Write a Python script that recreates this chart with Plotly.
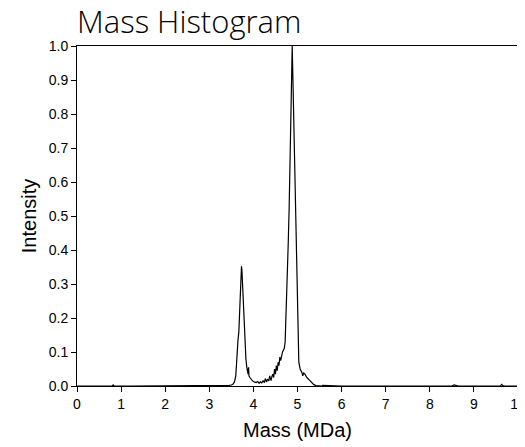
import plotly.graph_objects as go

# mass (MDa) and normalised intensity
mass = [0.0, 0.5, 0.80, 0.82, 0.84, 1.2, 1.70, 1.72, 2.1, 2.6, 3.0, 3.3, 3.45,
        3.50, 3.54, 3.57, 3.60, 3.62, 3.63, 3.65, 3.67, 3.69, 3.71, 3.73, 3.74,
        3.75, 3.77, 3.80, 3.83, 3.85, 3.86, 3.88, 3.89, 3.90, 3.92, 3.95, 3.98,
        4.02, 4.06, 4.10, 4.13, 4.16, 4.19, 4.22, 4.25, 4.27, 4.30, 4.32, 4.35,
        4.37, 4.40, 4.42, 4.44, 4.46, 4.48, 4.50, 4.52, 4.54, 4.56, 4.58, 4.60,
        4.62, 4.64, 4.66, 4.68, 4.70, 4.72, 4.74, 4.77, 4.79, 4.81, 4.83, 4.85,
        4.87, 4.88, 4.89, 4.91, 4.93, 4.95, 4.97, 4.99, 5.01, 5.03, 5.06, 5.10,
        5.12, 5.14, 5.17, 5.19, 5.21, 5.25, 5.29, 5.33, 5.37, 5.42, 5.5, 5.55,
        5.57, 6.0, 6.5, 7.0, 7.5, 8.0, 8.5, 8.55, 8.6, 8.65, 9.0, 9.6, 9.63,
        9.66, 9.7, 10.0]
intensity = [0.0, 0.0, 0.0, 0.003, 0.0, 0.0, 0.0, 0.002, 0.0, 0.0, 0.0, 0.001, 0.002,
             0.003, 0.006, 0.012, 0.03, 0.07, 0.11, 0.135, 0.16, 0.24, 0.31, 0.352, 0.34,
             0.31, 0.24, 0.14, 0.08, 0.055, 0.045, 0.035, 0.055, 0.03, 0.025, 0.018, 0.015,
             0.012, 0.010, 0.013, 0.008, 0.012, 0.009, 0.015, 0.010, 0.022, 0.012, 0.020, 0.015,
             0.030, 0.016, 0.028, 0.035, 0.025, 0.050, 0.035, 0.060, 0.045, 0.070, 0.060, 0.085,
             0.075, 0.090, 0.100, 0.105, 0.110, 0.130, 0.200, 0.330, 0.420, 0.520, 0.660, 0.800,
             0.940, 1.000, 0.940, 0.800, 0.660, 0.520, 0.420, 0.300, 0.150, 0.070, 0.050, 0.040,
             0.030, 0.038, 0.035, 0.028, 0.025, 0.020, 0.015, 0.008, 0.004, 0.001, 0.0, 0.0,
             0.002, 0.0, 0.0, 0.0, 0.0, 0.0, 0.0, 0.003, 0.002, 0.0, 0.0, 0.0, 0.005,
             0.001, 0.0, 0.0]

fig = go.Figure()
fig.add_trace(go.Scatter(x=mass, y=intensity, mode='lines',
                         line=dict(color='black', width=1.2),
                         showlegend=False))

label_font = dict(family='Liberation Sans, Arial', size=14, color='black')
title_font = dict(family='Liberation Sans, Arial', size=20, color='black')
axis_style = dict(showline=True, linecolor='black', linewidth=1, mirror=True,
                  ticks='outside', ticklen=5, tickcolor='black',
                  showgrid=False, zeroline=False, automargin=False,
                  ticklabeloverflow='allow', tickfont=label_font)

fig.update_xaxes(range=[0, 10], dtick=1, tick0=0,
                 title=dict(text='Mass (MDa)', standoff=12, font=title_font),
                 **axis_style)
fig.update_yaxes(range=[0, 1.0], dtick=0.1, tick0=0, tickformat='.1f',
                 title=dict(text='Intensity', standoff=6, font=title_font),
                 **axis_style)

# page body adds an 8px offset, margins are set relative to the figure itself
fig.update_layout(width=525, height=447,
                  margin=dict(l=69, r=15, t=38, b=69),
                  plot_bgcolor='white', paper_bgcolor='white',
                  title=dict(text='Mass Histogram', x=69/525, xanchor='left',
                             y=1 - 14/447, yanchor='middle',
                             font=dict(family='Open Sans', size=31, weight=350,
                                       color='black')))

fig.write_html("out.html")
